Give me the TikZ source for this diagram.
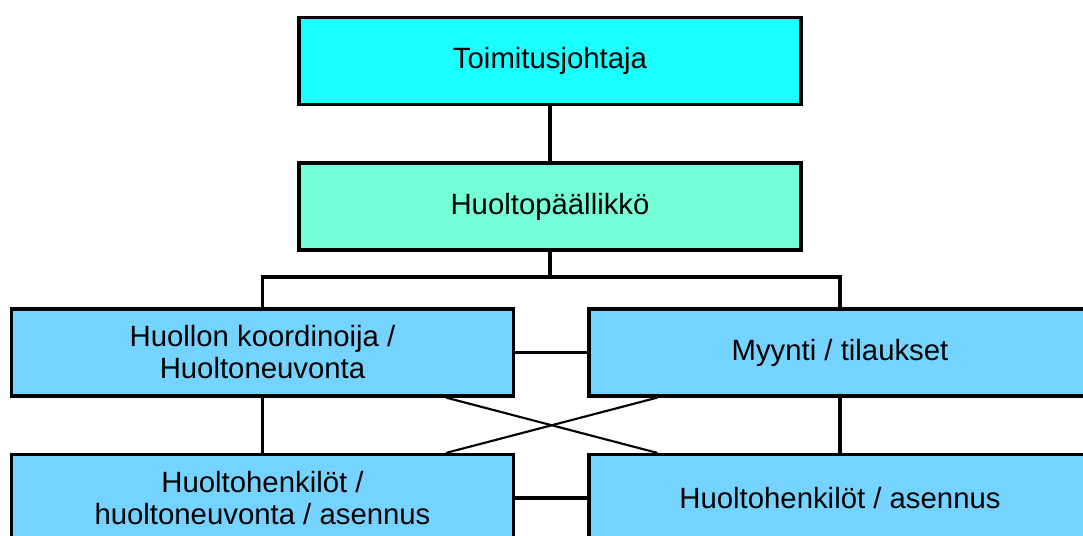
\documentclass[tikz,border=0pt]{standalone}
\usepackage{fontspec}
\setmainfont{Liberation Sans}
\usetikzlibrary{calc}
\definecolor{ceocyan}{HTML}{1AFFFF}
\definecolor{mgrmint}{HTML}{75FFD8}
\definecolor{unitblue}{HTML}{75D4FF}
\begin{document}
\begin{tikzpicture}[x=0.75pt,y=-0.75pt,line width=2.4pt,
    box/.style={draw,minimum width=502*0.75pt,minimum height=87*0.75pt,inner sep=0pt,
      align=center,font=\fontsize{22}{24}\selectfont},
    link/.style={line width=2.6pt},
    thin/.style={line width=1.6pt}]
  \useasboundingbox (0,0) rectangle (1083,536);
  \clip (0,0) rectangle (1083,536);
  \node[box,fill=ceocyan] (ceo) at (550,61) {Toimitusjohtaja};
  \node[box,fill=mgrmint] (mgr) at (550,206.5) {Huoltopäällikkö};
  \node[box,fill=unitblue] (coord) at (262.5,352.5) {Huollon koordinoija /\\Huoltoneuvonta};
  \node[box,fill=unitblue] (sales) at (840,352.5) {Myynti / tilaukset};
  \node[box,fill=unitblue] (techL) at (262.5,498) {Huoltohenkilöt /\\huoltoneuvonta / asennus};
  \node[box,fill=unitblue] (techR) at (840,498) {Huoltohenkilöt / asennus};
  \coordinate (split) at (550,277);
  \draw[link] (ceo) -- (mgr);
  \draw[link] (mgr) -- (split);
  \draw[link] (coord.north) |- (split) -| (sales.north);
  \draw[link] (coord) -- (sales);
  \draw[link] (coord) -- (techL);
  \draw[link] (sales) -- (techR);
  \draw[link] (techL) -- (techR);
  \draw[thin] ($(coord.south east)+(-69,0)$) -- ($(techR.north west)+(70,0)$);
  \draw[thin] ($(sales.south west)+(70,0)$) -- ($(techL.north east)+(-69,0)$);
\end{tikzpicture}
\end{document}
